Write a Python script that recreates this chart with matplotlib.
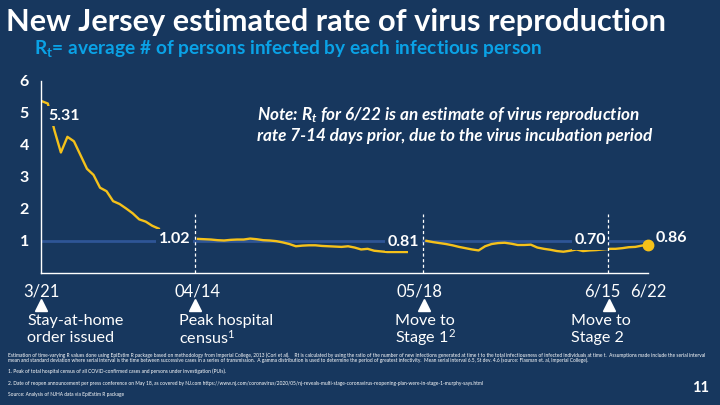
import matplotlib
matplotlib.use("Agg")
import matplotlib.pyplot as plt
import numpy as np

plt.rcParams['font.family'] = ['Lato', 'DejaVu Sans']
plt.rcParams['mathtext.default'] = 'regular'

# ---------------- data ----------------
nan = np.nan
# Estimated Rt per day, day 0 = 3/21 ... day 93 = 6/22 (NaN where the published line is broken)
rt_values = [
    5.36, 5.28, 4.45, 3.75, 4.24, 4.10, 3.67, 3.24, 3.05, 2.65,
    2.54, 2.23, 2.14, 2.00, 1.85, 1.66, 1.59, 1.46, 1.37,
    nan, nan, nan, nan, nan,
    1.05, 1.04, 1.03, 1.01, 1.00, 1.02, 1.03, 1.03, 1.06, 1.04,
    1.01, 1.00, 0.98, 0.94, 0.89, 0.82, 0.84, 0.85, 0.85, 0.83,
    0.82, 0.81, 0.80, 0.82, 0.78, 0.72, 0.74, 0.68, 0.66, 0.64,
    0.64, 0.64, 0.64,
    nan, nan,
    0.99, 0.95, 0.92, 0.89, 0.85, 0.80, 0.76, 0.72, 0.69, 0.82,
    0.89, 0.92, 0.93, 0.90, 0.86, 0.86, 0.87, 0.78, 0.74, 0.71,
    0.67, 0.65, 0.68, 0.72, 0.67, 0.69, 0.70, 0.72, 0.74, 0.74,
    0.76, 0.79, 0.80, 0.84, 0.86,
]
days = np.arange(len(rt_values))

tick_days = [0, 24, 58, 86, 93]
tick_labels = ['3/21', '04/14', '05/18', '6/15', '6/22']
y_ticks = [1, 2, 3, 4, 5, 6]

value_labels = ['5.31', '1.02', '0.81', '0.70', '0.86']
event_lines = [23.6, 58.5, 86.9]          # dashed markers (days)
event_marks = [0, 23.6, 58.7, 87.0]       # triangles (days)
event_texts = [('Stay-at-home', 'order issued'),
               ('Peak hospital', 'census$^1$'),
               ('Move to', 'Stage 1$^2$'),
               ('Move to', 'Stage 2')]

title = 'New Jersey estimated rate of virus reproduction'
subtitle = 'R$_t$= average # of persons infected by each infectious person'
note = ['Note: R$_t$ for 6/22 is an estimate of virus reproduction',
        'rate 7-14 days prior, due to the virus incubation period']
footnotes = [
    'Estimation of time-varying R values done using EpiEstim R package based on methodology from Imperial College, 2013 (Cori et al).    '
    'Rt is calculated by using the ratio of the number of new infections generated at time t to the total infectiousness of infected individuals at time t.  '
    'Assumptions made include the serial interval',
    'mean and standard deviation where serial interval is the time between successive cases in a series of transmission.  '
    'A gamma distribution is used to determine the period of greatest infectivity.  Mean serial interval 6.5, St dev. 4.6 (source: Flaxman et. al, Imperial College).',
    '1. Peak of total hospital census of all COVID-confirmed cases and persons under investigation (PUIs).',
    '2. Date of reopen announcement per press conference on May 18, as covered by NJ.com '
    'https://www.nj.com/coronavirus/2020/05/nj-reveals-multi-stage-coronavirus-reopening-plan-were-in-stage-1-murphy-says.html',
    'Source: Analysis of NJHA data via EpiEstim R package',
]
page_number = '11'

# ---------------- style / layout ----------------
W, H = 720, 405
BG = '#17375E'
GOLD = '#F5C11A'
REF_BLUE = '#2E5596'
SUB_BLUE = '#0AA2E6'

fig = plt.figure(figsize=(W / 100, H / 100), dpi=100, facecolor=BG)
renderer = fig.canvas.get_renderer()


def fx(x):
    return x / W


def fy(y):
    return 1 - y / H


def fit(t, width):
    bb = t.get_window_extent(renderer)
    t.set_fontsize(t.get_fontsize() * width / bb.width)
    return t.get_fontsize()


# axes: x 41.3..648.3 px, y 80.5..272.5 px
ax_l, ax_r, ax_t, ax_b = 41.3, 648.3, 80.5, 272.5
ax = fig.add_axes([fx(ax_l), fy(ax_b), (ax_r - ax_l) / W, (ax_b - ax_t) / H])
ax.set_facecolor('none')
ax.set_xlim(0, 93)
ax.set_ylim(0, 6)
for s in ['top', 'right']:
    ax.spines[s].set_visible(False)
for s in ['left', 'bottom']:
    ax.spines[s].set_color('white')
    ax.spines[s].set_linewidth(1.0)

ax.set_yticks(y_ticks)
ax.set_yticklabels([str(v) for v in y_ticks], fontweight='bold', fontsize=11.5, color='white')
ax.set_xticks(tick_days)
ax.set_xticklabels(tick_labels, fontsize=12, color='white')
ax.tick_params(axis='y', length=0, pad=9)
ax.tick_params(axis='x', length=0, pad=8)

ax.axhline(1, color=REF_BLUE, lw=2.0, zorder=1)
ax.plot(days, rt_values, color=GOLD, lw=1.7, zorder=2, solid_joinstyle='round')
ax.plot(days[-1], rt_values[-1], 'o', ms=7.5, color=GOLD, zorder=6, clip_on=False)

ax.vlines(event_lines, 0, 1.83, colors='white', linestyles=(0, (2.5, 2)), lw=0.9, zorder=5)

# value labels (pixel layout)
label_px = [(64, 116, 'center'), (174.7, 239.3, 'center'), (403.5, 241.5, 'center'),
            (590.5, 240.0, 'center'), (655.5, 237.7, 'left')]
for s, (x, y, ha) in zip(value_labels, label_px):
    ax.text((x - ax_l) / (ax_r - ax_l) * 93, (ax_b - y) / (ax_b - ax_t) * 6, s,
            ha=ha, va='center', color='white', fontweight='bold', fontsize=11.5,
            zorder=4, clip_on=False,
            bbox=dict(boxstyle='square,pad=0.18', fc=BG, ec='none'))

# triangles under the date labels
tri_y = (ax_b - 305) / (ax_b - ax_t) * 6
ax.plot(event_marks, [tri_y] * len(event_marks), ls='none', marker='^', ms=9,
        color='white', clip_on=False)

# event texts
event_left = [27, 179, 395, 570.7]
ev_fs = None
for (l1, l2), x in zip(event_texts, event_left):
    t1 = fig.text(fx(x), fy(321), l1, ha='left', va='center', color='white', fontsize=12.5)
    if ev_fs is None:
        ev_fs = fit(t1, 97)
    t1.set_fontsize(ev_fs)
    fig.text(fx(x), fy(338), l2, ha='left', va='center', color='white', fontsize=ev_fs)

# title & subtitle
t = fig.text(fx(5.5), fy(31), title, ha='left', va='baseline', color='white',
             fontweight='bold', fontsize=22)
fit(t, 660)
t = fig.text(fx(34), fy(54), subtitle, ha='left', va='baseline', color=SUB_BLUE,
             fontweight='bold', fontsize=12)
fit(t, 508)

# note
t2 = fig.text(fx(256.7), fy(135.7), note[1], ha='left', va='center', color='white',
              fontweight='bold', fontstyle='italic', fontsize=12.5)
nfs = fit(t2, 395)
fig.text(fx(256.7), fy(115), note[0], ha='left', va='center', color='white',
         fontweight='bold', fontstyle='italic', fontsize=nfs)

# footnotes
foot_y = [355, 360.3, 371.7, 383, 394.3]
tf = fig.text(fx(8), fy(foot_y[0]), footnotes[0], ha='left', va='center', color='white', fontsize=10)
ffs = fit(tf, 690)
tf.set_fontsize(ffs)
ffs = fit(tf, 690)
for s, y in zip(footnotes[1:], foot_y[1:]):
    fig.text(fx(8), fy(y), s, ha='left', va='center', color='white', fontsize=ffs)

fig.text(fx(700.7), fy(387.7), page_number, ha='center', va='center', color='white',
         fontweight='bold', fontsize=10.5)

fig.savefig('out.png', dpi=100, facecolor=BG)
